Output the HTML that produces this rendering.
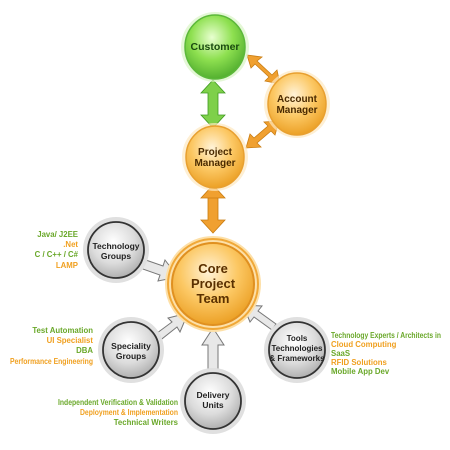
<!DOCTYPE html>
<html><head><style>body{margin:0;background:#fff}svg{display:block}text{font-family:"Liberation Sans",sans-serif;font-weight:bold}</style></head><body>
<svg width="450" height="450" viewBox="0 0 450 450">
<defs>
<radialGradient id="g" cx="0.45" cy="0.35" r="0.7"><stop offset="0" stop-color="#e8ffd0"/><stop offset="0.5" stop-color="#8ee050"/><stop offset="1" stop-color="#4aa82a"/></radialGradient>
<radialGradient id="o" cx="0.45" cy="0.35" r="0.7"><stop offset="0" stop-color="#fff3d8"/><stop offset="0.5" stop-color="#fcc864"/><stop offset="1" stop-color="#e99a1c"/></radialGradient>
<radialGradient id="s" cx="0.45" cy="0.35" r="0.7"><stop offset="0" stop-color="#ffffff"/><stop offset="0.55" stop-color="#dcdcdc"/><stop offset="1" stop-color="#a8a8a8"/></radialGradient>
<linearGradient id="ln" x1="0" x2="1"><stop offset="0" stop-color="#fff"/><stop offset="1" stop-color="#999"/></linearGradient>
<linearGradient id="lnr" x1="0" x2="1"><stop offset="0" stop-color="#999"/><stop offset="1" stop-color="#fff"/></linearGradient>
</defs>
<g stroke-width="1.2">
<line x1="15" y1="228" x2="100" y2="228" stroke="url(#ln)"/><line x1="15" y1="273" x2="100" y2="273" stroke="url(#ln)"/>
<line x1="25" y1="324" x2="115" y2="324" stroke="url(#ln)"/><line x1="25" y1="368" x2="115" y2="368" stroke="url(#ln)"/>
<line x1="55" y1="396" x2="195" y2="396" stroke="url(#ln)"/><line x1="95" y1="428" x2="195" y2="428" stroke="url(#ln)"/>
<line x1="310" y1="328" x2="430" y2="328" stroke="url(#lnr)"/><line x1="310" y1="378" x2="415" y2="378" stroke="url(#lnr)"/>
</g>
<g fill="#f0a030" stroke="#c97c10" stroke-width="0.8">
<polygon points="208,196 218,196 218,220 225,220 213,233 201,220 208,220"/>
<polygon points="213,185 225,198 201,198"/>
<polygon points="247,55 262,57 257,61 272,75 277,70 280,84 265,81 269,77 255,64 251,68"/>
<polygon points="246,148 250,134 254,138 268,126 264,122 279,121 275,135 271,131 257,143 261,147"/>
</g>
<g fill="#7ed04a" stroke="#3f9a20" stroke-width="0.8">
<polygon points="213,80 225,93 218,93 218,115 225,115 213,128 201,115 208,115 208,93 201,93"/>
</g>
<g fill="#e8e8e8" stroke="#777" stroke-width="1">
<polygon points="140,258 163,266 165,260 178,277 158,281 160,275 137,267"/>
<polygon points="153,336 172,322 168,318 188,313 180,332 177,327 158,342"/>
<polygon points="208,372 208,345 202,345 213,328 224,345 218,345 218,372"/>
<polygon points="272,330 254,317 250,322 243,305 262,306 258,311 276,324"/>
</g>
<g>
<ellipse cx="215" cy="47" rx="34" ry="35" fill="#d8f4c4" opacity="0.7"/>
<ellipse cx="215" cy="47" rx="30" ry="32" fill="url(#g)" stroke="#5cb83a" stroke-width="1.5"/>
<ellipse cx="297" cy="104" rx="33" ry="34" fill="#fde8c0" opacity="0.7"/>
<ellipse cx="297" cy="104" rx="29" ry="31" fill="url(#o)" stroke="#e8a030" stroke-width="1.5"/>
<ellipse cx="215" cy="157" rx="33" ry="34" fill="#fde8c0" opacity="0.7"/>
<ellipse cx="215" cy="157" rx="29" ry="31" fill="url(#o)" stroke="#e8a030" stroke-width="1.5"/>
<circle cx="213" cy="284" r="48" fill="#fde0a8"/>
<circle cx="213" cy="284" r="45" fill="none" stroke="#f0a838" stroke-width="2"/>
<circle cx="213" cy="284" r="41" fill="url(#o)" stroke="#e09020" stroke-width="2"/>
<g stroke="#333" stroke-width="1.8">
<circle cx="116" cy="250" r="33" fill="#e0e0e0" stroke="none"/><circle cx="116" cy="250" r="28" fill="url(#s)"/>
<circle cx="131" cy="350" r="33" fill="#e0e0e0" stroke="none"/><circle cx="131" cy="350" r="28" fill="url(#s)"/>
<circle cx="213" cy="401" r="33" fill="#e0e0e0" stroke="none"/><circle cx="213" cy="401" r="28" fill="url(#s)"/>
<circle cx="297" cy="350" r="33" fill="#e0e0e0" stroke="none"/><circle cx="297" cy="350" r="28" fill="url(#s)"/>
</g>
</g>
<g text-anchor="middle" font-size="10">
<text x="215" y="50" fill="#1a4a10" font-size="10.5">Customer</text>
<text x="297" y="102" fill="#4a2a00">Account</text><text x="297" y="113" fill="#4a2a00">Manager</text>
<text x="215" y="155" fill="#4a2a00">Project</text><text x="215" y="166" fill="#4a2a00">Manager</text>
<text x="213" y="273" fill="#5a3000" font-size="13">Core</text><text x="213" y="288" fill="#5a3000" font-size="13">Project</text><text x="213" y="303" fill="#5a3000" font-size="13">Team</text>
<g font-weight="normal" font-size="8.5" fill="#222">
<text x="116" y="249">Technology</text><text x="116" y="259">Groups</text>
<text x="131" y="349">Speciality</text><text x="131" y="359">Groups</text>
<text x="213" y="398">Delivery</text><text x="213" y="408">Units</text>
<text x="297" y="341" font-size="8">Tools</text><text x="297" y="351" font-size="8">Technologies</text><text x="297" y="361" font-size="8">&amp; Frameworks</text>
</g>
</g>
<g font-size="7.8" text-anchor="end">
<text x="78" y="237" fill="#6aa82a">Java/ J2EE</text>
<text x="78" y="247" fill="#f0a020">.Net</text>
<text x="78" y="257" fill="#6aa82a">C / C++ / C#</text>
<text x="78" y="268" fill="#f0a020">LAMP</text>
<text x="93" y="333" fill="#6aa82a">Test Automation</text>
<text x="93" y="343" fill="#f0a020">UI Specialist</text>
<text x="93" y="353" fill="#6aa82a">DBA</text>
<text x="93" y="364" fill="#f0a020" textLength="83" lengthAdjust="spacingAndGlyphs">Performance Engineering</text>
<text x="178" y="405" fill="#6aa82a" textLength="120" lengthAdjust="spacingAndGlyphs">Independent Verification &amp; Validation</text>
<text x="178" y="415" fill="#f0a020" textLength="98" lengthAdjust="spacingAndGlyphs">Deployment &amp; Implementation</text>
<text x="178" y="425" fill="#6aa82a">Technical Writers</text>
</g>
<g font-size="7.8">
<text x="331" y="338" fill="#6aa82a" textLength="110" lengthAdjust="spacingAndGlyphs">Technology Experts / Architects in</text>
<text x="331" y="347" fill="#f0a020">Cloud Computing</text>
<text x="331" y="356" fill="#6aa82a">SaaS</text>
<text x="331" y="365" fill="#f0a020">RFID Solutions</text>
<text x="331" y="374" fill="#6aa82a">Mobile App Dev</text>
</g>
</svg>
</body></html>
